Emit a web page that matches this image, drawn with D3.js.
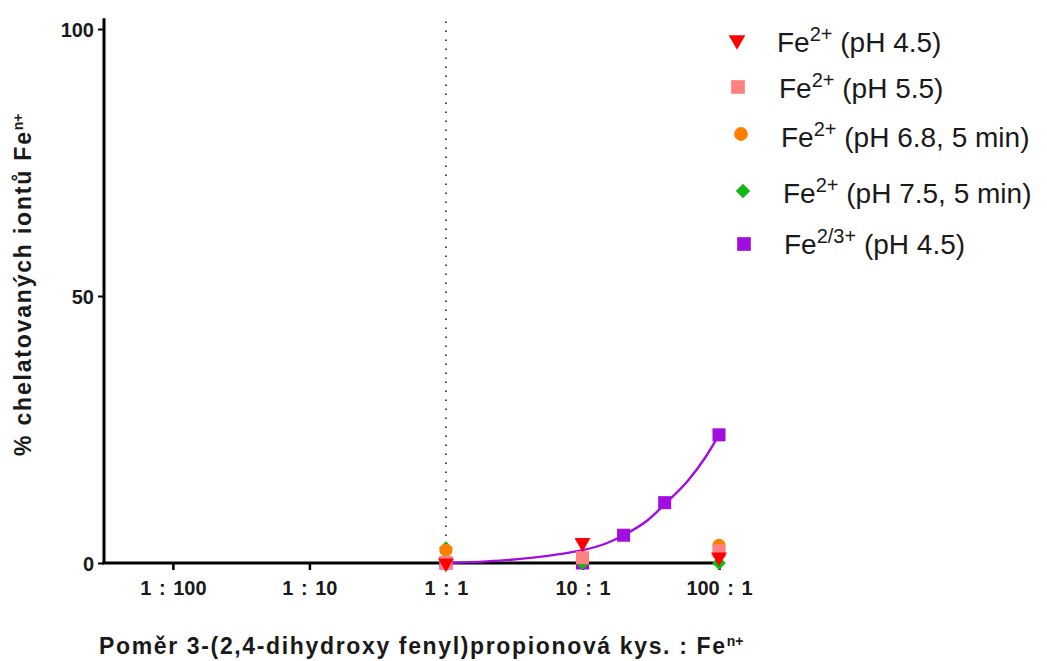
<!DOCTYPE html>
<html>
<head>
<meta charset="utf-8">
<script src="https://cdn.jsdelivr.net/npm/d3@7"></script>
<style>
  body { margin: 0; background: #fff; }
  svg { display: block; }
  text { font-family: Arial, "Liberation Sans", sans-serif; fill: #1a1a1a; }
  .tick-label { font-weight: bold; font-size: 20px; }
  .xtick-label { font-weight: bold; font-size: 20px; word-spacing: 2px; }
  .axis-title { font-weight: bold; font-size: 23px; }
  .legend-text { font-size: 28px; }
</style>
</head>
<body>
<svg id="chart" width="1047" height="661"></svg>
<script>
// x axis: molar ratio acid : Fe
var ratioTicks = [0.01, 0.1, 1, 10, 100];
var ratioLabels = ["1 : 100", "1 : 10", "1 : 1", "10 : 1", "100 : 1"];
var yTicks = [0, 50, 100];

// measured points (ratio, % chelated)
var ratiosMain = [1, 10, 100];
var fe2_ph45 = [0, 3.8, 1.1];
var fe2_ph55 = [0, 1.0, 2.3];
var fe2_ph68 = [2.4, 1.0, 3.3];
var fe2_ph75 = [2.8, 0, 0];
var ratiosFe23 = [1, 10, 20, 40, 100];
var fe23_ph45 = [0, 0, 5.2, 11.3, 24.0];

// fitted curve for Fe2/3+
var fitRatios = [1, 2, 3, 5, 7, 10, 15, 20, 30, 40, 60, 80, 100];
var fitValues = [0, 0.3, 0.6, 1.2, 1.7, 2.4, 3.7, 5.2, 8.0, 11.0, 15.6, 19.9, 24.0];

var series = [
    {name: "Fe", sup: "2/3+", rest: " (pH 4.5)", x: ratiosFe23, y: fe23_ph45, color: "#a30ee0", shape: "square"},
    {name: "Fe", sup: "2+", rest: " (pH 7.5, 5 min)", x: ratiosMain, y: fe2_ph75, color: "#14b814", shape: "diamond"},
    {name: "Fe", sup: "2+", rest: " (pH 6.8, 5 min)", x: ratiosMain, y: fe2_ph68, color: "#ff8000", shape: "circle"},
    {name: "Fe", sup: "2+", rest: " (pH 5.5)", x: ratiosMain, y: fe2_ph55, color: "#ff8080", shape: "square"},
    {name: "Fe", sup: "2+", rest: " (pH 4.5)", x: ratiosMain, y: fe2_ph45, color: "#ff0000", shape: "triangle"}
];

var svg = d3.select("#chart");

var x = d3.scaleLog().domain([0.00313, 100]).range([104, 719]);
var y = d3.scaleLinear().domain([0, 100]).range([563, 29]);

function symbolPath(shape, scale){
    var s = scale || 1;
    if (shape == "square") return d3.symbol(d3.symbolSquare, 170 * s)();
    if (shape == "circle") return d3.symbol(d3.symbolCircle, 135 * s)();
    if (shape == "diamond") return d3.symbol(d3.symbolSquare, 95 * s)();
    return d3.symbol(d3.symbolTriangle, 110 * s)();
}

function symbolRotate(shape){
    if (shape == "triangle") return " rotate(180)";
    if (shape == "diamond") return " rotate(45)";
    return "";
}

// dotted line at 1 : 1
svg.append("line")
    .attr("x1", x(1)).attr("x2", x(1))
    .attr("y1", y(0)).attr("y2", y(102))
    .attr("stroke", "#222")
    .attr("stroke-width", 1.6)
    .attr("stroke-dasharray", "1.6,7.4");

// y axis
var yAxis = svg.append("g")
    .attr("transform", "translate(" + x.range()[0] + ",0)")
    .call(d3.axisLeft(y).tickValues(yTicks).tickSize(6).tickPadding(4));
yAxis.select(".domain").remove();
yAxis.selectAll("line").attr("stroke", "#000").attr("stroke-width", 2);
yAxis.selectAll("text").attr("class", "tick-label").attr("fill", "#1a1a1a").attr("dy", "0.35em");
svg.append("line")
    .attr("x1", x.range()[0]).attr("x2", x.range()[0])
    .attr("y1", y(0) + 1).attr("y2", y(102))
    .attr("stroke", "#000").attr("stroke-width", 3);

// x axis
var xAxis = svg.append("g")
    .attr("transform", "translate(0," + y(0) + ")")
    .call(d3.axisBottom(x).tickValues(ratioTicks).tickFormat((d, i) => ratioLabels[i]).tickSize(7).tickPadding(10));
xAxis.select(".domain").remove();
xAxis.selectAll("line").attr("stroke", "#000").attr("stroke-width", 2.5);
xAxis.selectAll("text").attr("class", "xtick-label").attr("fill", "#1a1a1a").attr("dy", "0.75em");
svg.append("line")
    .attr("x1", x.range()[0] - 1.5).attr("x2", x(100))
    .attr("y1", y(0)).attr("y2", y(0))
    .attr("stroke", "#000").attr("stroke-width", 3);

// fit curve
var fitLine = d3.line()
    .x((d, i) => x(fitRatios[i]))
    .y(d => y(d))
    .curve(d3.curveMonotoneX);
svg.append("path")
    .datum(fitValues)
    .attr("d", fitLine)
    .attr("fill", "none")
    .attr("stroke", "#a30ee0")
    .attr("stroke-width", 2.4);

// points
series.forEach(s => {
    svg.append("g").selectAll("path")
        .data(s.y)
        .join("path")
        .attr("d", symbolPath(s.shape))
        .attr("transform", (d, i) => "translate(" + x(s.x[i]) + "," + y(d) + ")" + symbolRotate(s.shape))
        .attr("fill", s.color);
});

// legend (top to bottom)
var legendOrder = series.slice().reverse();
var legendRows = [
    {mx: 737, my: 40, tx: 777, ty: 52},
    {mx: 738, my: 87, tx: 779, ty: 98},
    {mx: 741, my: 134, tx: 781, ty: 147},
    {mx: 743, my: 191, tx: 783, ty: 203},
    {mx: 744, my: 244, tx: 784, ty: 254}
];
legendOrder.forEach((s, i) => {
    var r = legendRows[i];
    svg.append("path")
        .attr("d", symbolPath(s.shape, 1.1))
        .attr("transform", "translate(" + r.mx + "," + r.my + ")" + symbolRotate(s.shape))
        .attr("fill", s.color);
    var t = svg.append("text").attr("class", "legend-text").attr("x", r.tx).attr("y", r.ty);
    t.append("tspan").text(s.name);
    t.append("tspan").attr("dy", -11).attr("font-size", "20px").text(s.sup);
    t.append("tspan").attr("dy", 11).text(s.rest);
});

// axis titles
var xt = svg.append("text").attr("class", "axis-title").attr("x", 99).attr("y", 654);
xt.append("tspan").attr("textLength", 626).attr("lengthAdjust", "spacing")
    .text("Poměr 3-(2,4-dihydroxy fenyl)propionová kys. : Fe");
xt.append("tspan").attr("dy", -8).attr("font-size", "14px").text("n+");

var yt = svg.append("text").attr("class", "axis-title")
    .attr("transform", "translate(31,456) rotate(-90)");
yt.append("tspan").attr("textLength", 324).attr("lengthAdjust", "spacing")
    .text("% chelatovaných iontů Fe");
yt.append("tspan").attr("dy", -8).attr("font-size", "14px").text("n+");
</script>
</body>
</html>
